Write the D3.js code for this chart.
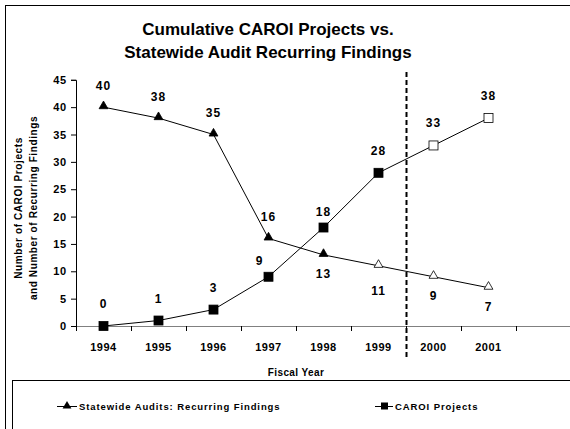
<!DOCTYPE html>
<html>
<head>
<meta charset="utf-8">
<script src="https://cdn.jsdelivr.net/npm/d3@7"></script>
<style>
  body { margin: 0; background: #fff; }
  text { font-family: "Liberation Sans", Arial, sans-serif; }
</style>
</head>
<body>
<div id="chart"></div>
<script>
// chart data
var years = ["1994", "1995", "1996", "1997", "1998", "1999", "2000", "2001"];
var recurringFindings = [40, 38, 35, 16, 13, 11, 9, 7];
var caroiProjects = [0, 1, 3, 9, 18, 28, 33, 38];
// first projected (open marker) year per series
var findingsProjectedFrom = "1999";
var projectsProjectedFrom = "2000";
var yTicks = [0, 5, 10, 15, 20, 25, 30, 35, 40, 45];
var slotCount = 9; // axis leaves one empty slot after 2001

var svgWidth = 570, svgHeight = 429;

var svg = d3.select("#chart").append("svg")
  .attr("width", svgWidth)
  .attr("height", svgHeight);

// outer frame and legend frame
svg.append("rect").attr("x", 5.5).attr("y", 5.5).attr("width", 580).attr("height", 440)
  .attr("fill", "none").attr("stroke", "#000");
svg.append("rect").attr("x", 12.5).attr("y", 380.5).attr("width", 580).attr("height", 80)
  .attr("fill", "none").attr("stroke", "#000");

// title
var title = svg.append("text")
  .attr("text-anchor", "middle")
  .attr("font-size", "17px")
  .attr("font-weight", "bold");
title.append("tspan").attr("x", 268).attr("y", 35).text("Cumulative CAROI Projects vs.");
title.append("tspan").attr("x", 268).attr("y", 58).text("Statewide Audit Recurring Findings");

// scales
var x0 = 76, x1 = 571;
var slot = d3.scaleLinear().domain([0, slotCount]).range([x0, x1]);
var xPos = function(year) { return slot(years.indexOf(year) + 0.5); };
var yScale = d3.scaleLinear().domain([0, 45]).range([326, 79.8]);

// y axis
var yAxis = d3.axisLeft(yScale).tickValues(yTicks).tickSize(5).tickPadding(4);
var yg = svg.append("g")
  .attr("transform", "translate(" + x0 + ",0)")
  .call(yAxis);
yg.select(".domain").attr("stroke", "#000");
yg.selectAll("text").attr("font-size", "11px").attr("font-weight", "bold")
  .attr("letter-spacing", "0.8px")
  .attr("font-family", "Liberation Sans, Arial, sans-serif");

// x axis: line, boundary ticks, centred labels
var xg = svg.append("g").attr("transform", "translate(0," + yScale(0) + ")");
xg.append("line").attr("x1", x0).attr("x2", 570).attr("y1", 0.5).attr("y2", 0.5)
  .attr("stroke", "#808080");
xg.selectAll(".xtick")
  .data(d3.range(0, slotCount + 1))
  .enter().append("line")
  .attr("x1", d => Math.round(slot(d)) + 0.5)
  .attr("x2", d => Math.round(slot(d)) + 0.5)
  .attr("y1", 0).attr("y2", 5)
  .attr("stroke", "#000");
xg.selectAll(".xlabel")
  .data(years)
  .enter().append("text")
  .attr("x", d => xPos(d))
  .attr("y", 25)
  .attr("text-anchor", "middle")
  .attr("font-size", "11px")
  .attr("font-weight", "bold")
  .attr("letter-spacing", "0.5px")
  .text(d => d);

// axis titles
svg.append("text")
  .attr("x", 296).attr("y", 376)
  .attr("text-anchor", "middle")
  .attr("font-size", "10px")
  .attr("font-weight", "bold")
  .attr("letter-spacing", "0.4px")
  .text("Fiscal Year");

var yTitle = svg.append("text")
  .attr("transform", "translate(0,208) rotate(-90)")
  .attr("text-anchor", "middle")
  .attr("font-size", "10px")
  .attr("font-weight", "bold")
  .attr("letter-spacing", "0.6px");
yTitle.append("tspan").attr("x", 0).attr("y", 22).text("Number of CAROI Projects");
yTitle.append("tspan").attr("x", 0).attr("y", 37).text("and Number of Recurring Findings");

// projection divider
svg.append("line")
  .attr("x1", slot(6) + 0.5).attr("x2", slot(6) + 0.5)
  .attr("y1", 72).attr("y2", 360)
  .attr("stroke", "#000").attr("stroke-width", 2)
  .attr("stroke-dasharray", "5,3");

// series
var findings = years.map((y, i) => ({ year: y, value: recurringFindings[i],
  open: years.indexOf(y) >= years.indexOf(findingsProjectedFrom) }));
var projects = years.map((y, i) => ({ year: y, value: caroiProjects[i],
  open: years.indexOf(y) >= years.indexOf(projectsProjectedFrom) }));

var line = d3.line().x(d => xPos(d.year)).y(d => yScale(d.value));

svg.append("path").datum(findings).attr("d", line)
  .attr("fill", "none").attr("stroke", "#000").attr("stroke-width", 1);
svg.append("path").datum(projects).attr("d", line)
  .attr("fill", "none").attr("stroke", "#000").attr("stroke-width", 1);

var triangle = d3.symbol().type(d3.symbolTriangle).size(34);

svg.selectAll(".tri")
  .data(findings)
  .enter().append("path")
  .attr("d", triangle)
  .attr("transform", d => "translate(" + xPos(d.year) + "," + (yScale(d.value) - 1) + ")")
  .attr("fill", d => d.open ? "#fff" : "#000")
  .attr("stroke", "#000").attr("stroke-width", 0.8);

svg.selectAll(".sq")
  .data(projects)
  .enter().append("rect")
  .attr("x", d => xPos(d.year) - 4.5)
  .attr("y", d => yScale(d.value) - 4.5)
  .attr("width", 9).attr("height", 9)
  .attr("fill", d => d.open ? "#fff" : "#000")
  .attr("stroke", "#000").attr("stroke-width", 0.8);

// data labels (above for most points, below where lines would clash)
var findingsLabelDy = [-17, -17, -18, -17, 23, 29, 23, 23];
var projectsLabelDy = [-18, -18, -18, -12, -12, -18, -18, -18];
var projectsLabelDx = [0, 0, 0, -9, 0, 0, 0, 0];

svg.selectAll(".flabel")
  .data(findings)
  .enter().append("text")
  .attr("x", d => xPos(d.year))
  .attr("y", (d, i) => yScale(d.value) + findingsLabelDy[i])
  .attr("text-anchor", "middle")
  .attr("font-size", "12px")
  .attr("font-weight", "bold")
  .attr("letter-spacing", "1px")
  .text(d => d.value);

svg.selectAll(".plabel")
  .data(projects)
  .enter().append("text")
  .attr("x", (d, i) => xPos(d.year) + projectsLabelDx[i])
  .attr("y", (d, i) => yScale(d.value) + projectsLabelDy[i])
  .attr("text-anchor", "middle")
  .attr("font-size", "12px")
  .attr("font-weight", "bold")
  .attr("letter-spacing", "1px")
  .text(d => d.value);

// legend
var legend = svg.append("g").attr("transform", "translate(0,406)");
legend.append("line").attr("x1", 57).attr("x2", 77).attr("y1", 0.5).attr("y2", 0.5).attr("stroke", "#000");
legend.append("path").attr("d", triangle).attr("transform", "translate(67,0)").attr("fill", "#000");
legend.append("text").attr("x", 79).attr("y", 3.5)
  .attr("font-size", "9.5px").attr("font-weight", "bold").attr("letter-spacing", "0.9px")
  .text("Statewide Audits: Recurring Findings");

legend.append("line").attr("x1", 375).attr("x2", 393).attr("y1", 0.5).attr("y2", 0.5).attr("stroke", "#000");
legend.append("rect").attr("x", 381).attr("y", -3.5).attr("width", 7).attr("height", 7).attr("fill", "#000");
legend.append("text").attr("x", 395).attr("y", 3.5)
  .attr("font-size", "9.5px").attr("font-weight", "bold").attr("letter-spacing", "0.9px")
  .text("CAROI Projects");
</script>
</body>
</html>
